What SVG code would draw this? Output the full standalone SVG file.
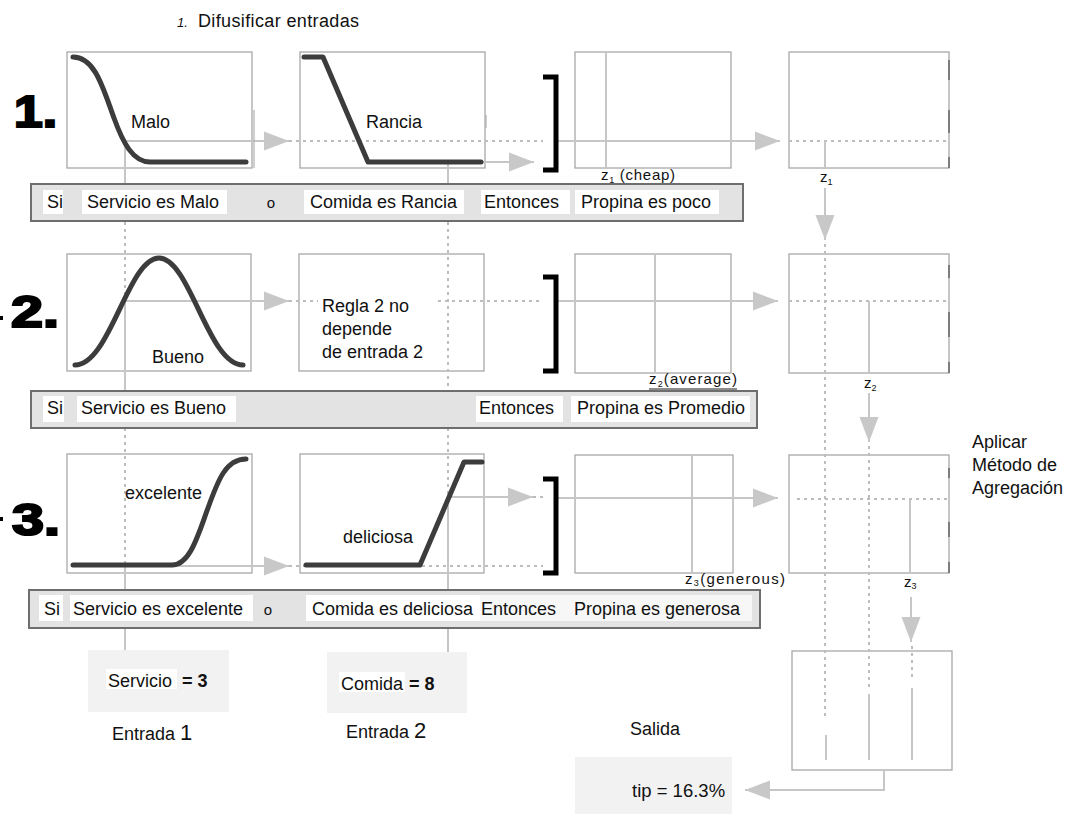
<svg xmlns="http://www.w3.org/2000/svg" width="1070" height="814" viewBox="0 0 1070 814">
<defs>
<marker id="ah" markerUnits="userSpaceOnUse" markerWidth="26" markerHeight="20" refX="25" refY="10" orient="auto">
<path d="M0,0.5 L25,10 L0,19.5 z" fill="#c8c8c8"/>
</marker>
<style>
text{font-family:"Liberation Sans",Arial,sans-serif;fill:#111;font-size:18px}
.box{fill:#fff;stroke:#a8a8a8;stroke-width:1.3}
.curve{fill:none;stroke:#3c3c3c;stroke-width:5;stroke-linecap:round;stroke-linejoin:round}
.ln{stroke:#c6c6c6;stroke-width:2;fill:none}
.dot{stroke:#bdbdbd;stroke-width:2;stroke-dasharray:3 4;fill:none}
.arr{stroke:#c6c6c6;stroke-width:2;fill:none;marker-end:url(#ah)}
.bar{fill:#e3e3e3;stroke:#6e6e6e;stroke-width:2}
.wb{fill:#fff}
.br{fill:none;stroke:#000;stroke-width:5}
.big{font-size:44px;font-weight:bold;stroke:#000;stroke-width:2.2;fill:#000}
.inp{fill:#f2f2f2}
.mark{stroke:#666;stroke-width:1.5}
.sm{font-size:15px}
.sub{font-size:9px}
</style>
</defs>
<rect width="1070" height="814" fill="#fff"/>

<g id="title">
<text x="177" y="27" style="font-size:13px;font-style:italic">1.</text>
<text x="198" y="27" textLength="161">Difusificar entradas</text>
</g>

<g id="row-numbers">
<text class="big" x="14" y="127" textLength="43" lengthAdjust="spacingAndGlyphs">1.</text>
<text class="big" x="11" y="327" textLength="48" lengthAdjust="spacingAndGlyphs">2.</text>
<text class="big" x="12" y="535" textLength="48" lengthAdjust="spacingAndGlyphs">3.</text>
<rect x="0" y="316" width="3" height="4" fill="#000"/>
<rect x="0" y="517" width="3" height="4" fill="#000"/>
</g>

<!-- boxes -->
<g id="mf-malo"><rect class="box" x="67" y="52" width="185" height="116"/></g>
<g id="mf-rancia"><rect class="box" x="300" y="52" width="185" height="116"/></g>
<g id="out1"><rect class="box" x="575" y="52" width="156" height="116"/></g>
<g id="agg1"><rect class="box" x="789" y="52" width="160" height="116"/></g>

<g id="mf-bueno"><rect class="box" x="67" y="254" width="184" height="117"/></g>
<g id="regla2"><rect class="box" x="299" y="254" width="185" height="117"/></g>
<g id="out2"><rect class="box" x="575" y="254" width="156" height="119"/></g>
<g id="agg2"><rect class="box" x="789" y="254" width="160" height="119"/></g>

<g id="mf-excelente"><rect class="box" x="67" y="454" width="185" height="119"/></g>
<g id="mf-deliciosa"><rect class="box" x="300" y="454" width="184" height="119"/></g>
<g id="out3"><rect class="box" x="575" y="455" width="158" height="118"/></g>
<g id="agg3"><rect class="box" x="789" y="455" width="160" height="118"/></g>

<g id="agg-final"><rect class="box" x="792" y="651" width="160" height="119"/></g>

<g id="connectors">
<!-- input vertical x=124 -->
<line class="ln" x1="125" y1="141" x2="125" y2="184"/>
<line class="dot" x1="125" y1="222" x2="125" y2="301"/>
<line class="ln" x1="125" y1="301" x2="125" y2="391"/>
<line class="dot" x1="125" y1="428" x2="125" y2="566"/>
<line class="ln" x1="125" y1="566" x2="125" y2="590"/>
<line class="ln" x1="125" y1="628" x2="125" y2="650"/>
<!-- input vertical x=448 -->
<line class="ln" x1="448" y1="162" x2="448" y2="184"/>
<line class="dot" x1="448" y1="222" x2="448" y2="391"/>
<line class="dot" x1="448" y1="428" x2="448" y2="497"/>
<line class="ln" x1="448" y1="497" x2="448" y2="590"/>
<line class="ln" x1="448" y1="628" x2="448" y2="652"/>

<!-- row 1 -->
<line class="arr" x1="125" y1="141" x2="289" y2="141"/>
<line class="dot" x1="289" y1="141" x2="543" y2="141"/>
<line class="arr" x1="448" y1="162" x2="534" y2="162"/>
<line class="ln" x1="606" y1="52" x2="606" y2="168"/>
<line class="arr" x1="556" y1="141" x2="780" y2="141"/>
<line class="dot" x1="789" y1="141" x2="949" y2="141"/>
<line class="ln" x1="825" y1="141" x2="825" y2="168"/>
<line class="arr" x1="825" y1="188" x2="825" y2="240"/>

<!-- row 2 -->
<line class="arr" x1="125" y1="301" x2="289" y2="301"/>
<line class="dot" x1="289" y1="301" x2="318" y2="301"/>
<line class="dot" x1="438" y1="301" x2="543" y2="301"/>
<line class="ln" x1="655" y1="254" x2="655" y2="373"/>
<line class="arr" x1="556" y1="301" x2="778" y2="301"/>
<line class="dot" x1="789" y1="301" x2="949" y2="301"/>
<line class="ln" x1="869" y1="301" x2="869" y2="373"/>
<line class="arr" x1="869" y1="393" x2="869" y2="442"/>

<!-- row 3 -->
<line class="arr" x1="125" y1="566" x2="289" y2="566"/>
<line class="dot" x1="289" y1="566" x2="543" y2="566"/>
<line class="arr" x1="448" y1="497" x2="533" y2="497"/>
<line class="dot" x1="533" y1="497" x2="543" y2="497"/>
<line class="ln" x1="692" y1="455" x2="692" y2="573"/>
<line class="arr" x1="556" y1="498" x2="778" y2="498"/>
<line class="dot" x1="797" y1="499" x2="949" y2="499"/>
<line class="ln" x1="910" y1="499" x2="910" y2="573"/>
<line class="arr" x1="911" y1="597" x2="911" y2="642"/>

<!-- aggregation verticals -->
<line class="dot" x1="825" y1="244" x2="825" y2="717"/>
<line class="dot" x1="869" y1="446" x2="869" y2="690"/>
<line class="dot" x1="912" y1="646" x2="912" y2="680"/>
<line class="ln" x1="826" y1="735" x2="826" y2="760"/>
<line class="ln" x1="869" y1="694" x2="869" y2="760"/>
<line class="ln" x1="912" y1="688" x2="912" y2="760"/>

<!-- output -->
<path class="arr" d="M884,770 V790 H745"/>

<!-- border marks -->
<path class="mark" d="M949,60 V80 M949,110 V133 M949,157 V168 M949,265 V278 M949,312 V337 M949,362 V373 M949,468 V478 M949,522 V537 M949,562 V573"/>
<path d="M254,110 V168 M486,115 V128" stroke="#b0b0b0" stroke-width="1.2"/>
<line x1="649" y1="389" x2="737" y2="389" stroke="#666" stroke-width="1.5"/>
</g>

<!-- curves and labels -->
<g id="curves">
<path class="curve" d="M73,57 C95,57 103,88 114,118 C123,143 133,162 150,162 L246,162"/>
<text x="131" y="128">Malo</text>
<path class="curve" d="M304,57 L323,57 L368,162 L481,162"/>
<text x="366" y="128">Rancia</text>
<path class="curve" d="M75,365 C110,365 128,258 159,258 C190,258 208,365 243,365"/>
<text x="152" y="363">Bueno</text>
<text x="322" y="312">Regla 2 no</text>
<text x="322" y="335">depende</text>
<text x="322" y="358">de entrada 2</text>
<path class="curve" d="M73,565 L172,565 C190,565 198,535 208,508 C218,480 226,459 246,459"/>
<text x="125" y="499">excelente</text>
<path class="curve" d="M306,565 L420,565 L464,462 L482,462"/>
<text x="343" y="543">deliciosa</text>
</g>

<g id="brackets">
<path class="br" d="M543,77 H556 V170 H543"/>
<path class="br" d="M543,277 H556 V371 H543"/>
<path class="br" d="M543,479 H556 V573 H543"/>
</g>

<g id="z-labels">
<text class="sm" x="601" y="180" textLength="74">z<tspan class="sub" dy="3">1</tspan><tspan dy="-3"> (cheap)</tspan></text>
<text class="sm" x="820" y="182">z<tspan class="sub" dy="3">1</tspan></text>
<text class="sm" x="649" y="384" textLength="88">z<tspan class="sub" dy="3">2</tspan><tspan dy="-3">(average)</tspan></text>
<text class="sm" x="864" y="388">z<tspan class="sub" dy="3">2</tspan></text>
<text class="sm" x="685" y="584" textLength="100">z<tspan class="sub" dy="2">3</tspan><tspan dy="-2">(generous)</tspan></text>
<text class="sm" x="904" y="587">z<tspan class="sub" dy="2">3</tspan></text>
</g>

<g id="rule1">
<rect class="bar" x="31" y="184" width="712" height="37"/>
<rect class="wb" x="43" y="190" width="20" height="24"/>
<rect class="wb" x="82" y="190" width="145" height="24"/>
<rect class="wb" x="304" y="190" width="160" height="24"/>
<rect class="wb" x="481" y="190" width="89" height="24"/>
<rect class="wb" x="575" y="190" width="144" height="24"/>
<text x="47" y="208">Si</text>
<text x="87" y="208">Servicio es Malo</text>
<text x="271" y="208" style="font-size:15px" text-anchor="middle">o</text>
<text x="310" y="208">Comida es Rancia</text>
<text x="484" y="208">Entonces</text>
<text x="581" y="208">Propina es poco</text>
</g>

<g id="rule2">
<rect class="bar" x="31" y="391" width="726" height="37"/>
<rect class="wb" x="43" y="396" width="21" height="26"/>
<rect class="wb" x="77" y="396" width="159" height="26"/>
<rect class="wb" x="476" y="396" width="87" height="26"/>
<rect class="wb" x="571" y="396" width="179" height="26"/>
<text x="47" y="414">Si</text>
<text x="81" y="414">Servicio es Bueno</text>
<text x="479" y="414">Entonces</text>
<text x="577" y="414">Propina es Promedio</text>
</g>

<g id="rule3">
<rect class="bar" x="29" y="590" width="731" height="38"/>
<rect class="wb" x="39" y="595" width="24" height="26"/>
<rect class="wb" x="70" y="595" width="183" height="26"/>
<rect class="wb" x="306" y="595" width="174" height="26"/>
<rect x="480" y="595" width="272" height="26" fill="#f7f7f7"/>
<text x="44" y="615">Si</text>
<text x="73" y="615">Servicio es excelente</text>
<text x="268" y="615" style="font-size:15px" text-anchor="middle">o</text>
<text x="312" y="615">Comida es deliciosa</text>
<text x="481" y="615">Entonces</text>
<text x="574" y="615">Propina es generosa</text>
</g>

<g id="input1">
<rect class="inp" x="88" y="650" width="141" height="62"/>
<rect class="wb" x="106" y="669" width="71" height="20"/>
<text x="108" y="687">Servicio</text>
<text x="182" y="687" font-weight="bold">= 3</text>
<text x="112" y="740">Entrada <tspan style="font-size:22px">1</tspan></text>
</g>

<g id="input2">
<rect class="inp" x="327" y="652" width="140" height="61"/>
<rect class="wb" x="339" y="672" width="66" height="20"/>
<text x="341" y="690">Comida</text>
<text x="409" y="690" font-weight="bold">= 8</text>
<text x="346" y="738">Entrada <tspan style="font-size:22px">2</tspan></text>
</g>

<g id="aplicar">
<text x="972" y="448">Aplicar</text>
<text x="972" y="471">Método de</text>
<text x="972" y="494">Agregación</text>
</g>

<g id="salida">
<text x="630" y="735">Salida</text>
<rect class="inp" x="575" y="757" width="157" height="57"/>
<text x="632" y="797" style="font-size:18.5px">tip = 16.3%</text>
</g>
</svg>
